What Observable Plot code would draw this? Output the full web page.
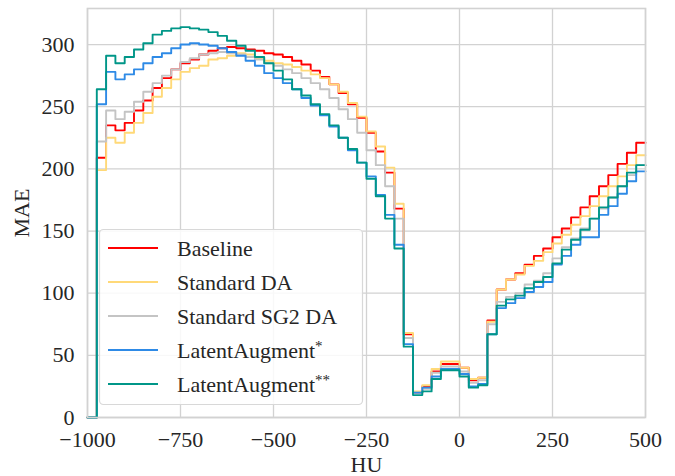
<!DOCTYPE html>
<html>
<head>
<meta charset="utf-8">
<script src="https://cdn.jsdelivr.net/npm/d3@7"></script>
<script src="https://cdn.jsdelivr.net/npm/@observablehq/plot@0.6"></script>
<style>
  html, body { margin: 0; padding: 0; background: #fff; }
  #chart svg { display: block; }
</style>
</head>
<body>
<div id="chart"></div>
<script>
// Bin starts (HU), 25-HU bins from -1000 to 500
const binStarts = d3.range(-1000, 500, 25);
const xEnd = 500;
const xTicks = [-1000, -750, -500, -250, 0, 250, 500];
const yTicks = [0, 50, 100, 150, 200, 250, 300];

const seriesNames = ["Baseline", "Standard DA", "Standard SG2 DA", "LatentAugment*", "LatentAugment**"];
const seriesColors = ["#ff0000", "#ffd978", "#c4c4c4", "#2e8ae6", "#009688"];

const baseline = [0,209,235,231,237,247,255,265,273,280,285,288,292,295,297,298,297,296,295,293,292,290,287,284,279,274,268,261,252,241,229,214,197,168,67,20,25,37,43,43,40,30,32,78,103,111,116,123,130,136,145,152,161,169,178,186,195,204,213,221];
const standardDA = [0,199,225,221,229,237,245,258,265,272,278,281,283,288,289,291,293,292,289,287,285,284,282,279,276,273,268,262,253,242,230,218,201,172,68,21,26,39,45,45,40,31,32,77,103,111,115,122,126,133,140,147,155,162,170,178,186,194,203,211];
const standardSG2DA = [0,222,247,240,246,254,262,269,275,280,286,289,292,293,294,293,292,290,288,285,283,280,277,273,269,264,257,248,240,229,215,203,186,160,64,20,23,36,41,41,37,28,30,75,93,97,100,107,110,116,128,137,144,152,160,168,177,186,195,203];
const latentAug1 = [0,252,278,272,276,280,285,290,293,297,300,301,300,299,297,294,291,287,283,277,273,269,264,257,251,243,234,225,215,205,194,179,163,139,59,20,24,33,39,39,35,25,27,67,88,92,96,101,105,109,123,130,139,145,145,163,170,180,190,198];
const latentAug2 = [0,264,291,285,290,296,301,308,311,313,314,313,312,310,307,303,299,295,290,285,279,272,264,259,252,244,235,225,216,205,192,178,160,136,57,18,21,31,38,38,33,24,26,67,90,95,98,104,109,113,124,135,143,151,160,169,177,186,197,203];

const seriesValues = [baseline, standardDA, standardSG2DA, latentAug1, latentAug2];

const rows = [];
seriesValues.forEach((vals, si) => {
  vals.forEach((v, i) => rows.push({x: binStarts[i], y: v, s: seriesNames[si]}));
  rows.push({x: xEnd, y: vals[vals.length - 1], s: seriesNames[si]});
});

const FONT = "'Liberation Serif', 'DejaVu Serif', serif";
const GRID = "#d2d2d2";
const TEXT = "#262626";
const fmt = d3.format("d");

const plot = Plot.plot({
  width: 675,
  height: 476,
  marginLeft: 87,
  marginRight: 30,
  marginTop: 8,
  marginBottom: 59,
  style: {fontFamily: FONT, fontSize: "22px", color: TEXT, background: "#fff"},
  x: {domain: [-1000, 500]},
  y: {domain: [0, 329]},
  marks: [
    Plot.gridX(xTicks, {stroke: GRID, strokeOpacity: 1, strokeWidth: 1.3}),
    Plot.gridY(yTicks, {stroke: GRID, strokeOpacity: 1, strokeWidth: 1.3}),
    ...seriesNames.map((name, i) =>
      Plot.line(rows.filter(d => d.s === name), {
        x: "x", y: "y", curve: "step-after",
        stroke: seriesColors[i], strokeWidth: 1.9
      })
    ),
    Plot.frame({stroke: GRID, strokeWidth: 1.6}),
    Plot.axisX(xTicks, {tickSize: 0, tickPadding: 14, tickFormat: fmt, label: "HU", labelAnchor: "center", labelArrow: "none", labelOffset: 54, fontSize: 22}),
    Plot.axisY(yTicks, {tickSize: 0, tickPadding: 13, tickFormat: fmt, label: "MAE", labelAnchor: "center", labelArrow: "none", labelOffset: 74, fontSize: 22})
  ]
});

document.getElementById("chart").appendChild(plot);

// Legend inside the plot area
const svg = d3.select(plot);
const lg = svg.append("g")
  .attr("font-family", FONT).attr("font-size", 22).attr("fill", TEXT)
  .attr("text-anchor", "start");
lg.append("rect")
  .attr("x", 99.5).attr("y", 229.5).attr("width", 263).attr("height", 175)
  .attr("rx", 4).attr("ry", 4)
  .attr("fill", "#fff").attr("fill-opacity", 0.85)
  .attr("stroke", "#d8d8d8").attr("stroke-width", 1.2);
const rowY = [248, 282, 316, 350, 384];
seriesNames.forEach((name, i) => {
  lg.append("line")
    .attr("x1", 108).attr("x2", 158).attr("y1", rowY[i]).attr("y2", rowY[i])
    .attr("stroke", seriesColors[i]).attr("stroke-width", 1.9);
  const t = lg.append("text").attr("x", 177).attr("y", rowY[i]).attr("dy", "0.35em")
    .attr("text-anchor", "start");
  const m = name.match(/^(.*?)(\*+)$/);
  if (m) {
    t.append("tspan").text(m[1]);
    t.append("tspan").attr("dy", "-0.45em").attr("font-size", 15).text(m[2]);
  } else {
    t.text(name);
  }
});
</script>
</body>
</html>
